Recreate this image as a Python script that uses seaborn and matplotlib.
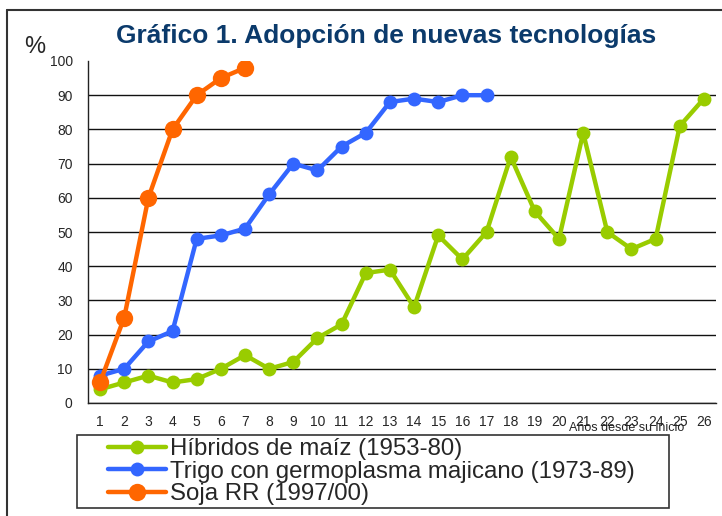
import matplotlib
matplotlib.use("Agg")
import matplotlib.pyplot as plt
import seaborn as sns
import pandas as pd
from matplotlib.lines import Line2D
from matplotlib.patches import Rectangle

sns.set_style("white")
plt.rcParams['font.family'] = ['Liberation Sans', 'DejaVu Sans']

years = list(range(1, 27))
maize = [4, 6, 8, 6, 7, 10, 14, 10, 12, 19, 23, 38, 39, 28, 49, 42, 50, 72, 56, 48, 79, 50, 45, 48, 81, 89]
wheat = [8, 10, 18, 21, 48, 49, 51, 61, 70, 68, 75, 79, 88, 89, 88, 90, 90]
soy = [6, 25, 60, 80, 90, 95, 98]

labels = ["Híbridos de maíz (1953-80)",
          "Trigo con germoplasma majicano (1973-89)",
          "Soja RR (1997/00)"]
colors = ["#99CC00", "#3366FF", "#FF6600"]
title = "Gráfico 1. Adopción de nuevas tecnologías"
xlabel = "Años desde su inicio"
ylabel = "%"

fig = plt.figure(figsize=(7.22, 5.16), dpi=100)
ax = fig.add_axes([88/722, 113/516, 628/722, 342/516])

series = [maize, wheat, soy]
msizes = [10, 10, 12.5]
handles = []
for vals, lab, col, ms in zip(series, labels, colors, msizes):
    df = pd.DataFrame({"x": years[:len(vals)], "y": vals})
    sns.lineplot(data=df, x="x", y="y", ax=ax, color=col, linewidth=3.2,
                 marker="o", markersize=ms, markeredgewidth=0, label=lab, legend=False)
    handles.append(Line2D([0], [0], color=col, linewidth=3.2, marker="o",
                          markersize=ms, markeredgewidth=0))

ax.set_xlim(0.5, 26.5)
ax.set_ylim(0, 100)
ax.set_xticks(years)
ax.set_xticklabels([str(y) for y in years], fontsize=10)
ax.set_xticks([y + 0.5 for y in range(0, 27)], minor=True)
ax.tick_params(axis="x", which="major", length=0, pad=9)
ax.tick_params(axis="x", which="minor", length=5, width=1, color="#222222", direction="out")
ax.set_yticks(range(0, 101, 10))
ax.tick_params(axis="y", labelsize=10, length=5, width=1, color="#222222", direction="out", pad=6)
ax.set_xlabel("")
ax.set_ylabel("")
ax.yaxis.grid(True, color="#111111", linewidth=1)
ax.xaxis.grid(False)
ax.get_ygridlines()[-1].set_visible(False)
ax.set_axisbelow(True)
for s in ["top", "right"]:
    ax.spines[s].set_visible(False)
for s in ["left", "bottom"]:
    ax.spines[s].set_color("#222222")
    ax.spines[s].set_linewidth(1)

fig.text(386/722, 1 - 36/516, title, ha="center", va="center", fontsize=19,
         fontweight="bold", color="#0B3A6B")
fig.text(35/722, 1 - 47/516, ylabel, ha="center", va="center", fontsize=17)
fig.text(627/722, 1 - 428/516, xlabel, ha="center", va="center", fontsize=9)

leg = fig.legend(handles, labels, loc="upper left", bbox_to_anchor=(108/722, 1 - 438/516),
                 fontsize=17.3, frameon=False,
                 labelspacing=0.03, handlelength=2.4, handletextpad=0.2,
                 borderpad=0, borderaxespad=0)

# legend box
fig.add_artist(Rectangle((77/722, 1 - 508/516), (669 - 77)/722, (508 - 435)/516,
                         transform=fig.transFigure, fill=False, edgecolor="#333333",
                         linewidth=1.2))

# figure border
fig.add_artist(Line2D([7/722, 1], [1 - 10/516, 1 - 10/516], color="#333333", linewidth=1.5,
                      transform=fig.transFigure))
fig.add_artist(Line2D([7/722, 7/722], [0, 1 - 10/516], color="#333333", linewidth=1.5,
                      transform=fig.transFigure))

fig.savefig("out.png", dpi=100)
